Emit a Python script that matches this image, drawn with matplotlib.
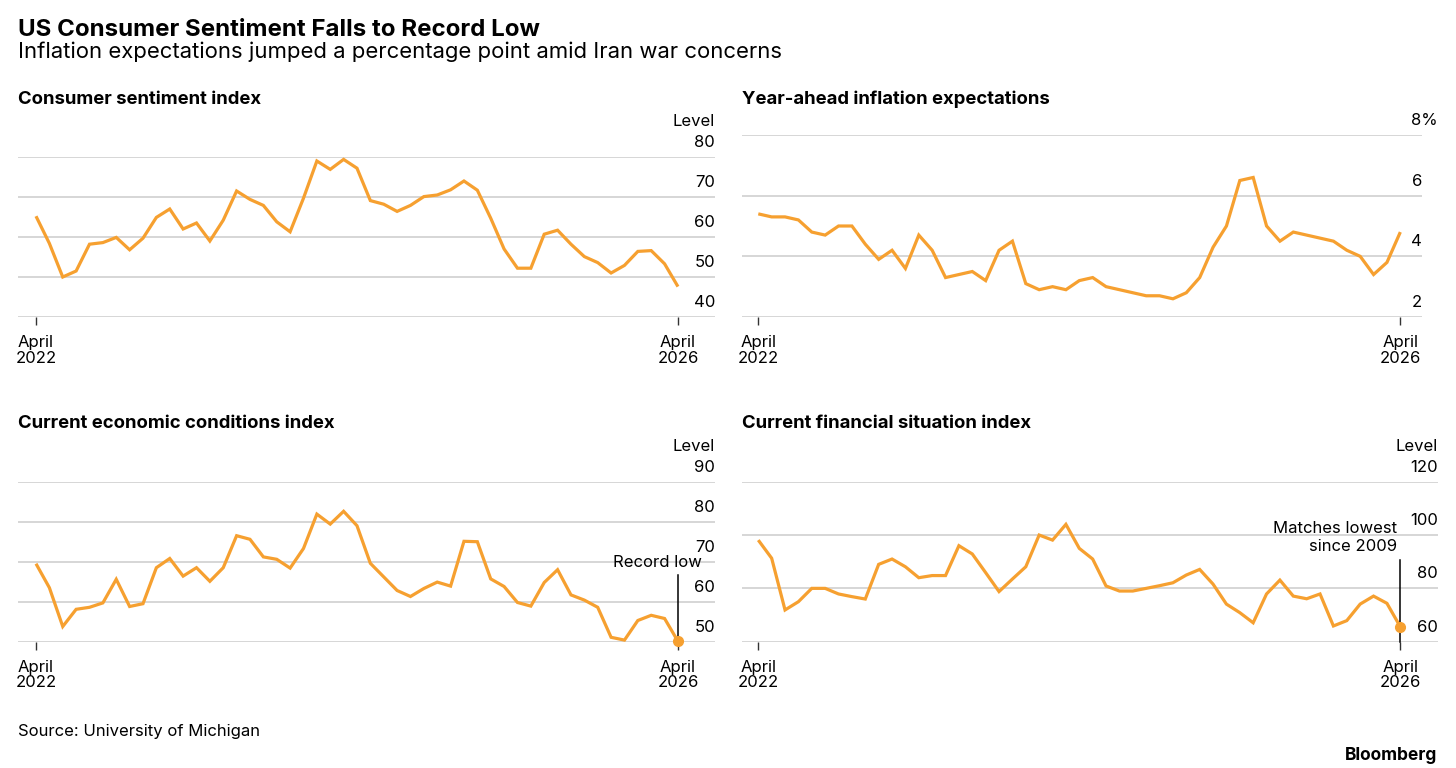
import numpy as np
import pandas as pd
import matplotlib
matplotlib.use("Agg")
import matplotlib.pyplot as plt

# ---------------- data ----------------
months = pd.date_range("2022-04-01", "2026-04-01", freq="MS")

sentiment = [65.2, 58.4, 50.0, 51.5, 58.2, 58.6, 59.9, 56.8, 59.7, 64.9,
             67.0, 62.0, 63.5, 59.0, 64.2, 71.5, 69.4, 67.9, 63.8, 61.3,
             69.7, 79.0, 76.9, 79.4, 77.2, 69.1, 68.2, 66.4, 67.9, 70.1,
             70.5, 71.8, 74.0, 71.7, 64.7, 57.0, 52.2, 52.2, 60.7, 61.7,
             58.2, 55.1, 53.6, 51.0, 52.9, 56.4, 56.6, 53.3, 47.6]

inflation = [5.4, 5.3, 5.3, 5.2, 4.8, 4.7, 5.0, 5.0, 4.4, 3.9,
             4.2, 3.6, 4.7, 4.2, 3.3, 3.4, 3.5, 3.2, 4.2, 4.5,
             3.1, 2.9, 3.0, 2.9, 3.2, 3.3, 3.0, 2.9, 2.8, 2.7,
             2.7, 2.6, 2.8, 3.3, 4.3, 5.0, 6.5, 6.6, 5.0, 4.5,
             4.8, 4.7, 4.6, 4.5, 4.2, 4.0, 3.4, 3.8, 4.8]

current_conditions = [69.5, 63.5, 53.8, 58.1, 58.6, 59.7, 65.6, 58.8, 59.5, 68.5,
                      70.8, 66.4, 68.5, 65.1, 68.5, 76.5, 75.6, 71.2, 70.6, 68.4,
                      73.3, 81.9, 79.4, 82.6, 79.0, 69.6, 66.2, 62.8, 61.3, 63.3,
                      64.9, 63.9, 75.1, 75.0, 65.7, 63.8, 59.8, 58.9, 64.8, 68.0,
                      61.7, 60.4, 58.6, 51.1, 50.4, 55.3, 56.6, 55.8, 50.1]

financial = [98.1, 91.3, 71.9, 75.0, 80.0, 80.0, 77.9, 76.9, 76.0, 89.0,
             91.0, 88.1, 84.0, 84.8, 84.8, 96.0, 92.9, 85.9, 78.8, 83.5,
             88.1, 100.0, 98.1, 104.0, 95.0, 91.0, 80.9, 79.0, 79.0, 80.0,
             81.0, 82.1, 85.0, 87.1, 81.6, 74.1, 70.9, 67.1, 77.9, 83.1,
             77.1, 76.1, 77.9, 65.9, 67.9, 74.1, 77.1, 74.4, 65.6]

titles = ["Consumer sentiment index", "Year-ahead inflation expectations",
          "Current economic conditions index", "Current financial situation index"]
yticks = [[40, 50, 60, 70, 80], [2, 4, 6, 8], [50, 60, 70, 80, 90], [60, 80, 100, 120]]
units = ["Level", "%", "Level", "Level"]
notes = [None, None, "Record low", "Matches lowest\nsince 2009"]

# ---------------- style ----------------
ORANGE = "#F6A030"
GRID = "#CBCBCB"
FONT = ["Inter", "Liberation Sans", "DejaVu Sans"]
plt.rcParams["font.family"] = FONT

W, H = 1456, 768
fig = plt.figure(figsize=(W / 100, H / 100), dpi=100)
fig.patch.set_facecolor("white")


def px_axes(l, t, r, b):
    return fig.add_axes([l / W, 1 - b / H, (r - l) / W, (b - t) / H])


def ftext(x, y, s, **kw):
    fig.text(x / W, 1 - y / H, s, **kw)


ftext(18, 36, "US Consumer Sentiment Falls to Record Low", fontsize=17.3,
      fontweight="bold", va="baseline", ha="left")
ftext(18, 58, "Inflation expectations jumped a percentage point amid Iran war concerns",
      fontsize=15.9, va="baseline", ha="left")
ftext(18, 736, "Source: University of Michigan", fontsize=12, va="baseline", ha="left")
ftext(1437, 760, "Bloomberg", fontsize=12.5, fontweight="bold", va="baseline", ha="right")

boxes = [(18, 157, 715, 317), (741.7, 135, 1422, 317),
         (18, 481.7, 715, 641.7), (741.7, 481.7, 1438, 641.7)]
xlims = [(-1.346, 50.77), (-1.24, 49.62), (-1.346, 50.77), (-1.24, 50.82)]
title_y = [104, 104, 428, 428]
series = [sentiment, inflation, current_conditions, financial]
note_pos = [None, None, (49.8, 69.75, 66.7), (47.75, 99.1, 90.6)]

x = np.arange(len(months))
tick_idx = [0, len(months) - 1]
tick_lab = [f"{months[i].strftime('%B')}\n{months[i].year}" for i in tick_idx]

for k in range(4):
    l, t, r, b = boxes[k]
    ax = px_axes(l, t, r, b)
    ftext(l, title_y[k], titles[k], fontsize=13.3, fontweight="bold", va="baseline", ha="left")
    ys = yticks[k]
    ax.set_xlim(*xlims[k])
    ax.set_ylim(ys[0], ys[-1])
    for s in ax.spines.values():
        s.set_visible(False)
    ax.set_yticks(ys)
    ax.yaxis.grid(True, color=GRID, lw=1.1)
    ax.tick_params(axis="y", length=0, labelleft=False)
    ax.set_axisbelow(True)
    ax.set_xticks(tick_idx)
    ax.set_xticklabels(tick_lab, fontsize=12)
    for lab in ax.get_xticklabels():
        lab.set_linespacing(1.05)
    ax.tick_params(axis="x", length=6, width=1.0, color="#333333", pad=7, direction="out")

    ax.plot(x, series[k], color=ORANGE, lw=2.3, solid_joinstyle="miter",
            solid_capstyle="butt", clip_on=False, zorder=3)

    for v in ys:
        if units[k] == "%" and v == ys[-1]:
            # unit hangs past the number column
            ax.annotate(f"{v}%", xy=(1, v), xycoords=("axes fraction", "data"),
                        xytext=(11.5, 7.2), textcoords="offset points",
                        ha="right", va="baseline", fontsize=12)
        else:
            ax.annotate(f"{v}", xy=(1, v), xycoords=("axes fraction", "data"),
                        xytext=(0, 7.2), textcoords="offset points",
                        ha="right", va="baseline", fontsize=12)
    if units[k] != "%":
        ax.annotate(units[k], xy=(1, ys[-1]), xycoords=("axes fraction", "data"),
                    xytext=(0, 22), textcoords="offset points",
                    ha="right", va="baseline", fontsize=12)

    if notes[k]:
        tx, ty, ltop = note_pos[k]
        xl = x[-1]
        ax.plot([xl, xl], [ys[0], ltop], color="black", lw=1.1, zorder=4, clip_on=False)
        ax.plot([xl], [series[k][-1]], "o", color=ORANGE, ms=7, zorder=5, clip_on=False)
        ax.text(tx, ty, notes[k], ha="right", va="center", fontsize=12,
                linespacing=1.2, zorder=6)

fig.savefig("out.png", dpi=100, facecolor="white")
